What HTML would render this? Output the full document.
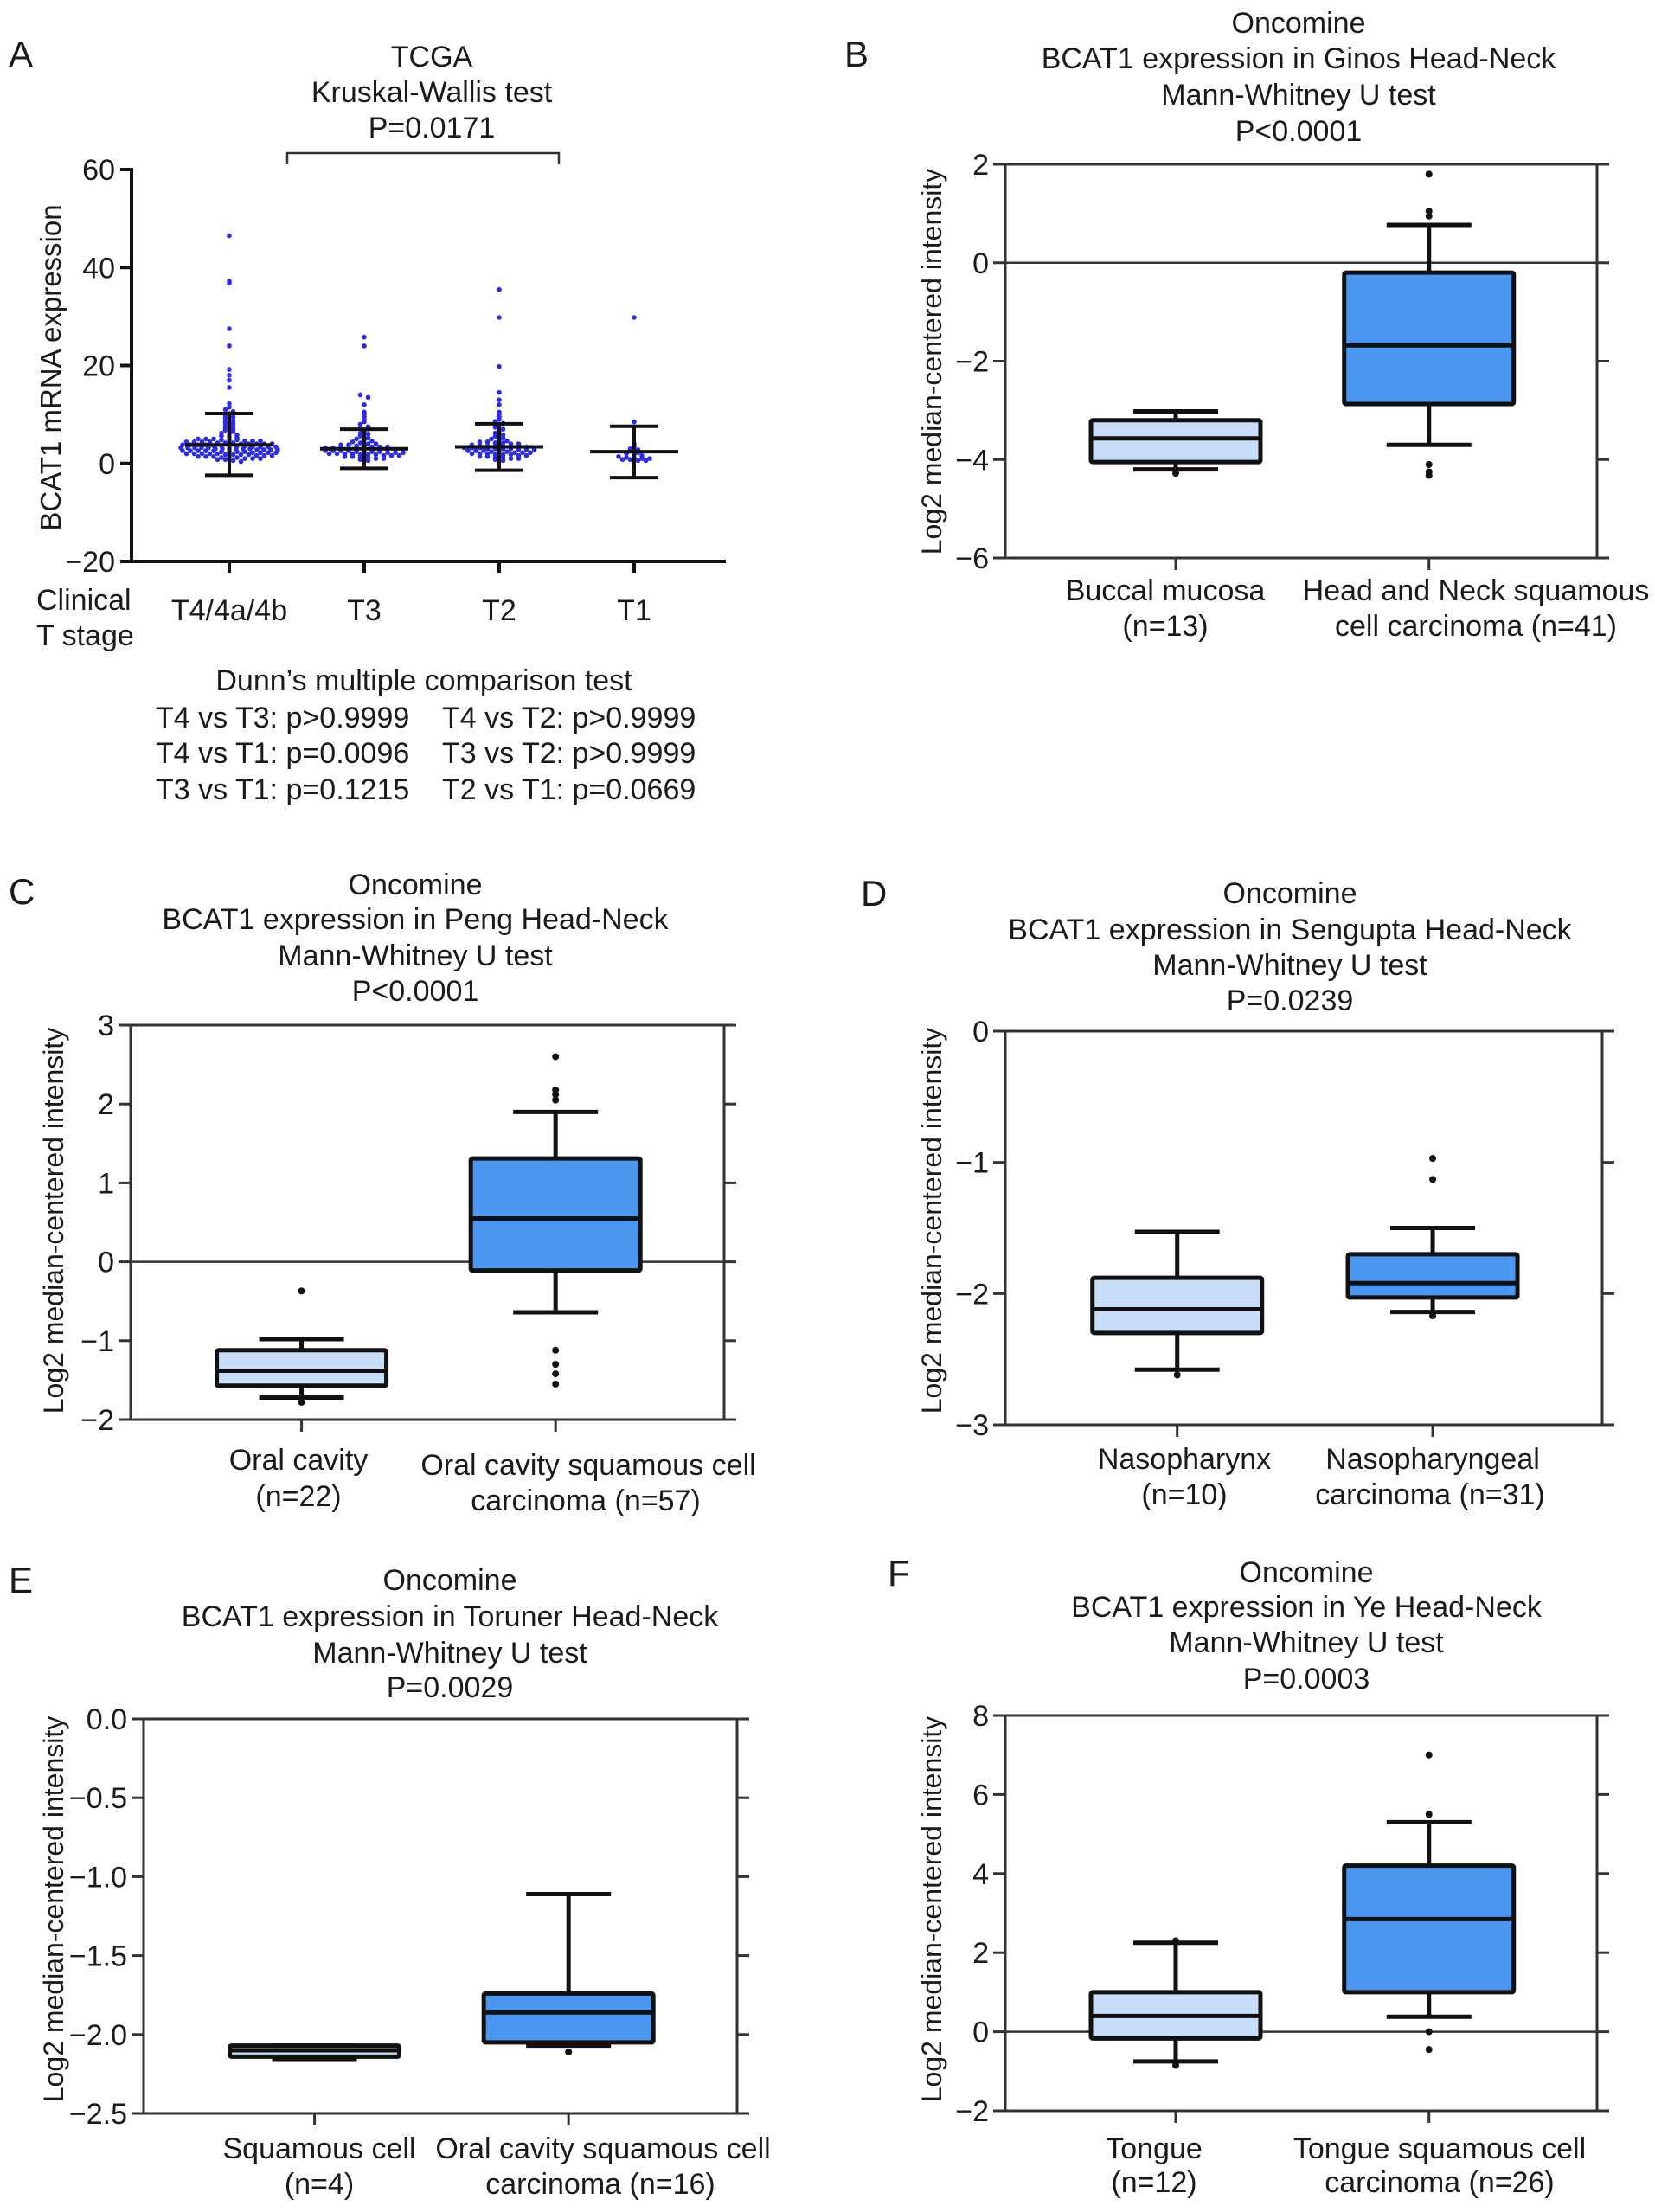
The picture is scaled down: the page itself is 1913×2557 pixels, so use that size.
<!DOCTYPE html>
<html><head><meta charset="utf-8">
<style>
html,body{margin:0;padding:0;background:#fff;}
svg text{font-family:"Liberation Sans",Arial,sans-serif;fill:#1a1a1a;}
</style></head>
<body>
<svg id="fig" xmlns="http://www.w3.org/2000/svg" width="1913" height="2552" viewBox="0 0 1913 2552">
<rect x="0" y="0" width="1913" height="2552" fill="#fff"/>
<g font-size="42">
<text x="10" y="77">A</text>
<text x="976" y="77">B</text>
<text x="10" y="1045">C</text>
<text x="995" y="1047">D</text>
<text x="10" y="1841">E</text>
<text x="1026" y="1833">F</text>
</g>
<g font-size="34" text-anchor="middle">
<text x="499" y="77">TCGA</text>
<text x="499" y="118">Kruskal-Wallis test</text>
<text x="499" y="159">P=0.0171</text>
</g>
<text transform="translate(70,425) rotate(-90)" font-size="33" text-anchor="middle">BCAT1 mRNA expression</text>
<g font-size="34">
<text x="42" y="705">Clinical</text>
<text x="42" y="746">T stage</text>
<text x="265" y="717" text-anchor="middle">T4/4a/4b</text>
<text x="421" y="717" text-anchor="middle">T3</text>
<text x="577" y="717" text-anchor="middle">T2</text>
<text x="733" y="717" text-anchor="middle">T1</text>
</g>
<g font-size="34">
<text x="490" y="798" text-anchor="middle">Dunn’s multiple comparison test</text>
<text x="180" y="841">T4 vs T3: p&gt;0.9999</text>
<text x="511" y="841">T4 vs T2: p&gt;0.9999</text>
<text x="180" y="882">T4 vs T1: p=0.0096</text>
<text x="511" y="882">T3 vs T2: p&gt;0.9999</text>
<text x="180" y="924">T3 vs T1: p=0.1215</text>
<text x="511" y="924">T2 vs T1: p=0.0669</text>
</g>
<g font-size="34" text-anchor="middle">
<text x="1501" y="38">Oncomine</text>
<text x="1501" y="79">BCAT1 expression in Ginos Head-Neck</text>
<text x="1501" y="121">Mann-Whitney U test</text>
<text x="1501" y="163">P&lt;0.0001</text>
</g>
<text transform="translate(1088,418) rotate(-90)" font-size="32" text-anchor="middle">Log2 median-centered intensity</text>
<g font-size="34" text-anchor="middle">
<text x="1347" y="694">Buccal mucosa</text>
<text x="1347" y="735">(n=13)</text>
<text x="1706" y="694">Head and Neck squamous</text>
<text x="1706" y="735">cell carcinoma (n=41)</text>
</g>
<g font-size="34" text-anchor="middle">
<text x="480" y="1034">Oncomine</text>
<text x="480" y="1074">BCAT1 expression in Peng Head-Neck</text>
<text x="480" y="1116">Mann-Whitney U test</text>
<text x="480" y="1157">P&lt;0.0001</text>
</g>
<text transform="translate(73,1411) rotate(-90)" font-size="32" text-anchor="middle">Log2 median-centered intensity</text>
<g font-size="34" text-anchor="middle">
<text x="345" y="1699">Oral cavity</text>
<text x="345" y="1741">(n=22)</text>
<text x="680" y="1705">Oral cavity squamous cell</text>
<text x="677" y="1746">carcinoma (n=57)</text>
</g>
<g font-size="34" text-anchor="middle">
<text x="1491" y="1044">Oncomine</text>
<text x="1491" y="1086">BCAT1 expression in Sengupta Head-Neck</text>
<text x="1491" y="1127">Mann-Whitney U test</text>
<text x="1491" y="1168">P=0.0239</text>
</g>
<text transform="translate(1088,1411) rotate(-90)" font-size="32" text-anchor="middle">Log2 median-centered intensity</text>
<g font-size="34" text-anchor="middle">
<text x="1369" y="1698">Nasopharynx</text>
<text x="1369" y="1739">(n=10)</text>
<text x="1656" y="1698">Nasopharyngeal</text>
<text x="1653" y="1739">carcinoma (n=31)</text>
</g>
<g font-size="34" text-anchor="middle">
<text x="520" y="1838">Oncomine</text>
<text x="520" y="1880">BCAT1 expression in Toruner Head-Neck</text>
<text x="520" y="1922">Mann-Whitney U test</text>
<text x="520" y="1962">P=0.0029</text>
</g>
<text transform="translate(73,2207) rotate(-90)" font-size="32" text-anchor="middle">Log2 median-centered intensity</text>
<g font-size="34" text-anchor="middle">
<text x="369" y="2495">Squamous cell</text>
<text x="369" y="2536">(n=4)</text>
<text x="697" y="2495">Oral cavity squamous cell</text>
<text x="694" y="2536">carcinoma (n=16)</text>
</g>
<g font-size="34" text-anchor="middle">
<text x="1510" y="1829">Oncomine</text>
<text x="1510" y="1869">BCAT1 expression in Ye Head-Neck</text>
<text x="1510" y="1910">Mann-Whitney U test</text>
<text x="1510" y="1952">P=0.0003</text>
</g>
<text transform="translate(1088,2207) rotate(-90)" font-size="32" text-anchor="middle">Log2 median-centered intensity</text>
<g font-size="34" text-anchor="middle">
<text x="1334" y="2495">Tongue</text>
<text x="1334" y="2534">(n=12)</text>
<text x="1664" y="2495">Tongue squamous cell</text>
<text x="1664" y="2534">carcinoma (n=26)</text>
</g>
<g id="marks"></g>
</svg>
<script>
// ---------- Panel A data ----------
const aTicks = [60, 40, 20, 0, -20];
const aMean = [3.8, 3.0, 3.4, 2.4];
const aSdHigh = [10.2, 7.0, 8.1, 7.6];
const aSdLow = [-2.4, -1.0, -1.4, -2.9];
const aT4 = [46.5,37.2,36.8,27.5,24,19.2,18,17,15.5,12.2,11.5,11,10.6,10.2,9.8,9.5,9.2,8.8,8.5,8.2,8,7.6,7.3,7,6.8,6.5,6.2,6,5.8,5.6,5.4,5.2,5,5,5,4.8,4.8,4.8,4.6,4.6,4.6,4.4,4.4,4.4,4.4,4.2,4.2,4.2,4,4,4,4,4,3.8,3.8,3.8,3.8,3.6,3.6,3.6,3.6,3.6,3.4,3.4,3.4,3.4,3.2,3.2,3.2,3.2,3.2,3,3,3,3,3,3,2.8,2.8,2.8,2.8,2.6,2.6,2.6,2.6,2.6,2.4,2.4,2.4,2.4,2.2,2.2,2.2,2.2,2,2,2,2,2,1.8,1.8,1.8,1.8,1.6,1.6,1.6,1.4,1.4,1.4,1.2,1.2,1.2,1,1,1,0.8,0.8,0.6,0.4];
const aT3 = [25.8,24,14,13.5,12,10.5,10,9.5,9,8.5,8,7.5,7.2,7,6.6,6.2,6,5.6,5.2,5,4.8,4.6,4.4,4.2,4,4,3.8,3.8,3.6,3.6,3.4,3.4,3.4,3.2,3.2,3.2,3,3,3,3,2.8,2.8,2.8,2.8,2.6,2.6,2.6,2.6,2.4,2.4,2.4,2.4,2.2,2.2,2.2,2,2,2,2,1.8,1.8,1.8,1.6,1.6,1.6,1.4,1.4,1.2,1.2,1,1,0.8,0.6];
const aT2 = [35.5,29.8,19.8,14.5,13,12,10.5,10,9.5,9,8.6,8.2,7.8,7.4,7,6.6,6.2,5.8,5.5,5.2,5,4.8,4.6,4.4,4.4,4.2,4.2,4,4,3.8,3.8,3.6,3.6,3.6,3.4,3.4,3.4,3.2,3.2,3.2,3,3,3,3,2.8,2.8,2.8,2.6,2.6,2.6,2.4,2.4,2.4,2.2,2.2,2.2,2,2,2,1.8,1.8,1.8,1.6,1.6,1.4,1.4,1.2,1.2,1,1,0.8,0.6];
const aT1 = [29.8,8.5,4,3.5,3,2.8,2.5,2.2,2,1.8,1.6,1.4,1.2,1.2,1,1,0.8,0.8,0.6,0.6];
const aPoints = [aT4, aT3, aT2, aT1];

// ---------- Box panels data ----------
const bTicks = [2, 0, -2, -4, -6];
const bQ1 = [-4.05, -2.87];
const bMed = [-3.57, -1.68];
const bQ3 = [-3.2, -0.2];
const bLo = [-4.2, -3.7];
const bHi = [-3.02, 0.77];
const bOut = [[-4.28], [1.8, 1.05, 0.95, -4.1, -4.25, -4.32]];

const cTicks = [3, 2, 1, 0, -1, -2];
const cQ1 = [-1.57, -0.11];
const cMed = [-1.38, 0.55];
const cQ3 = [-1.12, 1.31];
const cLo = [-1.72, -0.64];
const cHi = [-0.98, 1.9];
const cOut = [[-0.37, -1.78], [2.6, 2.18, 2.12, 2.05, -1.12, -1.3, -1.42, -1.55]];

const dTicks = [0, -1, -2, -3];
const dQ1 = [-2.3, -2.03];
const dMed = [-2.12, -1.92];
const dQ3 = [-1.88, -1.7];
const dLo = [-2.58, -2.14];
const dHi = [-1.53, -1.5];
const dOut = [[-2.62], [-0.97, -1.13, -2.17]];

const eTicks = [0, -0.5, -1, -1.5, -2, -2.5];
const eTickLabels = ['0.0', '−0.5', '−1.0', '−1.5', '−2.0', '−2.5'];
const eQ1 = [-2.14, -2.05];
const eMed = [-2.1, -1.86];
const eQ3 = [-2.07, -1.74];
const eLo = [-2.16, -2.07];
const eHi = [-2.07, -1.11];
const eOut = [[], [-2.11]];

const fTicks = [8, 6, 4, 2, 0, -2];
const fQ1 = [-0.17, 1.0];
const fMed = [0.4, 2.85];
const fQ3 = [1.0, 4.2];
const fLo = [-0.75, 0.38];
const fHi = [2.25, 5.3];
const fOut = [[-0.85, 2.3], [7.0, 5.5, 0.0, -0.45]];

const NS = 'http://www.w3.org/2000/svg';
const marks = document.getElementById('marks');
function mk(tag, attrs, parent) {
  const el = document.createElementNS(NS, tag);
  for (const k in attrs) el.setAttribute(k, attrs[k]);
  (parent || marks).appendChild(el);
  return el;
}
function fmt(v) { return v < 0 ? '−' + Math.abs(v) : String(v); }

// ---------- Panel A ----------
(function () {
  const g = mk('g', {});
  
  
  const L = 152, R = 839, T = 196, B = 649, vmin = -20, vmax = 60;
  const y = v => B - (v - vmin) / (vmax - vmin) * (B - T);
  const x = i => 265 + 156 * i;
  const yAxis = mk('line', {x1: L, y1: T - 2, x2: L, y2: B + 2, stroke: '#111', 'stroke-width': 4}, g);
  
  
  const xAxis = mk('line', {x1: L - 2, y1: B, x2: R, y2: B, stroke: '#111', 'stroke-width': 4}, g);
  
  
  aTicks.forEach(t => {
    mk('line', {x1: L - 13, y1: y(t), x2: L, y2: y(t), stroke: '#111', 'stroke-width': 4}, g);
    const tl = mk('text', {x: L - 19, y: y(t) + 12, 'font-size': 34, 'text-anchor': 'end'}, g);
    tl.textContent = fmt(t);
    
    
  });
  for (let i = 0; i < aPoints.length; i++) {
    mk('line', {x1: x(i), y1: B, x2: x(i), y2: B + 13, stroke: '#111', 'stroke-width': 4}, g);
  }
  const br = mk('path', {d: 'M332 190 V177 H646 V190', fill: 'none', stroke: '#333', 'stroke-width': 2.5}, g);
  
  
  aPoints.forEach((pts, i) => {
    const bins = {};
    pts.forEach(v => {
      const k = Math.round(v / 0.6);
      (bins[k] = bins[k] || []).push(v);
    });
    Object.keys(bins).forEach(k => {
      const arr = bins[k];
      const n = arr.length;
      const sp = n > 1 ? Math.min(9, 112 / (n - 1)) : 0;
      arr.forEach((v, j) => {
        const dx = (j - (n - 1) / 2) * sp;
        const c = mk('circle', {cx: x(i) + dx, cy: y(v), r: 2.8, fill: '#2b2be8'}, g);
        
        
      });
    });
  });
  for (let i = 0; i < aMean.length; i++) {
    const s = mk('line', {x1: x(i), y1: y(aSdHigh[i]), x2: x(i), y2: y(aSdLow[i]), stroke: '#111', 'stroke-width': 4}, g);
    
    
    [aSdHigh[i], aSdLow[i]].forEach(v => {
      mk('line', {x1: x(i) - 28, y1: y(v), x2: x(i) + 28, y2: y(v), stroke: '#111', 'stroke-width': 4}, g);
    });
    const m = mk('line', {x1: x(i) - 51, y1: y(aMean[i]), x2: x(i) + 51, y2: y(aMean[i]), stroke: '#111', 'stroke-width': 4}, g);
    
    
  }
})();

// ---------- Box panels ----------
function boxPanel(name, fr, vmin, vmax, ticks, tickLabels, q1, med, q3, lo, hi, outs) {
  const g = mk('g', {});
  
  
  const y = v => fr.b - (v - vmin) / (vmax - vmin) * (fr.b - fr.t);
  const x = i => fr.l + (fr.r - fr.l) * (i === 0 ? 0.288 : 0.716);
  const frame = mk('rect', {x: fr.l, y: fr.t, width: fr.r - fr.l, height: fr.b - fr.t, fill: 'none', stroke: '#333', 'stroke-width': 3}, g);
  
  
  ticks.forEach((t, k) => {
    mk('line', {x1: fr.l - 14, y1: y(t), x2: fr.l, y2: y(t), stroke: '#333', 'stroke-width': 3}, g);
    mk('line', {x1: fr.r, y1: y(t), x2: fr.r + 14, y2: y(t), stroke: '#333', 'stroke-width': 3}, g);
    const tl = mk('text', {x: fr.l - 19, y: y(t) + 12, 'font-size': 34, 'text-anchor': 'end'}, g);
    tl.textContent = tickLabels ? tickLabels[k] : fmt(t);
    
    
    if (t === 0 && vmax > 0 && vmin < 0) {
      const z = mk('line', {x1: fr.l, y1: y(0), x2: fr.r, y2: y(0), stroke: '#333', 'stroke-width': 2.5}, g);
      
      
    }
  });
  const fills = ['#c7ddf8', '#4b96f1'];
  for (let i = 0; i < 2; i++) {
    const cx = x(i);
    mk('line', {x1: cx, y1: fr.b, x2: cx, y2: fr.b + 14, stroke: '#333', 'stroke-width': 3}, g);
    const w = mk('line', {x1: cx, y1: y(hi[i]), x2: cx, y2: y(lo[i]), stroke: '#111', 'stroke-width': 5}, g);
    
    
    [hi[i], lo[i]].forEach(v => {
      const cap = mk('line', {x1: cx - 49, y1: y(v), x2: cx + 49, y2: y(v), stroke: '#111', 'stroke-width': 5}, g);
      
      
    });
    const bx = mk('rect', {x: cx - 98, y: y(q3[i]), width: 196, height: Math.max(2, y(q1[i]) - y(q3[i])), fill: fills[i], stroke: '#111', 'stroke-width': 5, rx: 2}, g);
    
    
    const md = mk('line', {x1: cx - 98, y1: y(med[i]), x2: cx + 98, y2: y(med[i]), stroke: '#111', 'stroke-width': 5}, g);
    
    
    outs[i].forEach(v => {
      const o = mk('circle', {cx: cx, cy: y(v), r: 4, fill: '#111'}, g);
      
      
    });
  }
}
boxPanel('panel-b', {l: 1162, r: 1846, t: 190, b: 645}, -6, 2, bTicks, null, bQ1, bMed, bQ3, bLo, bHi, bOut);
boxPanel('panel-c', {l: 151, r: 837, t: 1185, b: 1641}, -2, 3, cTicks, null, cQ1, cMed, cQ3, cLo, cHi, cOut);
boxPanel('panel-d', {l: 1162, r: 1852, t: 1192, b: 1647}, -3, 0, dTicks, null, dQ1, dMed, dQ3, dLo, dHi, dOut);
boxPanel('panel-e', {l: 166, r: 852, t: 1987, b: 2443}, -2.5, 0, eTicks, eTickLabels, eQ1, eMed, eQ3, eLo, eHi, eOut);
boxPanel('panel-f', {l: 1162, r: 1846, t: 1983, b: 2440}, -2, 8, fTicks, null, fQ1, fMed, fQ3, fLo, fHi, fOut);
</script>
</body></html>
